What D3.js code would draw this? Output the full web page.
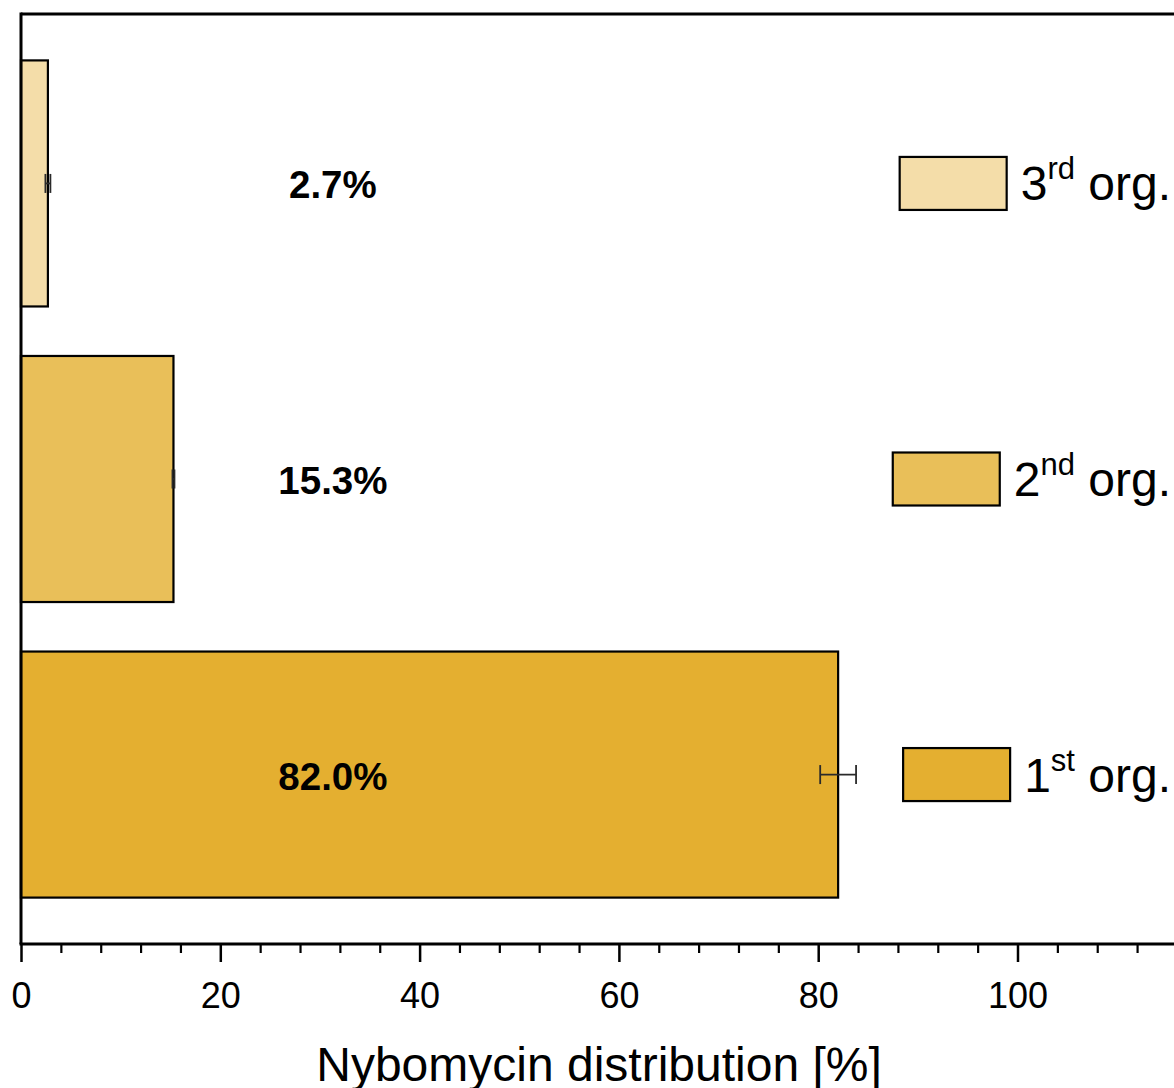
<!DOCTYPE html>
<html>
<head>
<meta charset="utf-8">
<script src="https://cdn.jsdelivr.net/npm/d3@7/dist/d3.min.js"></script>
<style>
  html, body { margin: 0; padding: 0; background: #fff; }
  svg { display: block; font-family: "Liberation Sans", Arial, Helvetica, sans-serif; }
</style>
</head>
<body>
<svg id="chart" width="1174" height="1088"></svg>
<script>
// Organ groups, top to bottom
const organs = ["3rd", "2nd", "1st"];
const ordinalBase = ["3", "2", "1"];
const ordinalSuffix = ["rd", "nd", "st"];
// Share of nybomycin per organ (%) and its standard deviation
const shares = [2.7, 15.3, 82.0];
const errors = [0.25, 0.1, 1.8];
const fills = ["#F4DDA9", "#E9BF59", "#E4AF30"];
// Axis ticks
const majorTicks = [0, 20, 40, 60, 80, 100];
const minorTicks = d3.range(4, 116, 4).filter(v => v % 20 !== 0);
const xTitle = "Nybomycin distribution [%]";

const rows = organs.map((o, i) => ({
  organ: o, base: ordinalBase[i], suffix: ordinalSuffix[i],
  value: shares[i], err: errors[i], fill: fills[i]
}));

const svg = d3.select("#chart");
const plotLeft = 21, plotTop = 14, plotBottom = 944;

const x = d3.scaleLinear().domain([0, 100]).range([plotLeft, plotLeft + 996.5]);
const xEnd = 1180;

const y = d3.scaleBand()
  .domain(organs)
  .range([plotTop, plotBottom])
  .paddingInner(0.1675)
  .paddingOuter(0.157);

// Bars
svg.append("g").selectAll("rect")
  .data(rows)
  .join("rect")
  .attr("x", x(0))
  .attr("y", d => y(d.organ))
  .attr("width", d => x(d.value) - x(0))
  .attr("height", y.bandwidth())
  .attr("fill", d => d.fill)
  .attr("stroke", "#000")
  .attr("stroke-width", 2.2);

// Error bars
const capH = 19;
const eb = svg.append("g").attr("stroke", "#2a2a2a").attr("stroke-width", 1.8).attr("fill", "none");
rows.forEach(d => {
  const cy = y(d.organ) + y.bandwidth() / 2;
  const x0 = x(d.value - d.err), x1 = x(d.value + d.err);
  eb.append("line").attr("x1", x0).attr("x2", x1).attr("y1", cy).attr("y2", cy);
  eb.append("line").attr("x1", x0).attr("x2", x0).attr("y1", cy - capH / 2).attr("y2", cy + capH / 2);
  eb.append("line").attr("x1", x1).attr("x2", x1).attr("y1", cy - capH / 2).attr("y2", cy + capH / 2);
});

// Value labels
const labelX = x(31.3);
svg.append("g").selectAll("text")
  .data(rows)
  .join("text")
  .attr("x", labelX)
  .attr("y", d => y(d.organ) + y.bandwidth() / 2 + 15)
  .attr("text-anchor", "middle")
  .attr("font-size", 38.5)
  .attr("font-weight", "bold")
  .attr("fill", "#000")
  .text(d => d.value.toFixed(1) + "%");

// Frame: top border and left axis line
svg.append("line").attr("x1", plotLeft).attr("x2", xEnd).attr("y1", plotTop).attr("y2", plotTop)
  .attr("stroke", "#000").attr("stroke-width", 3);
svg.append("line").attr("x1", plotLeft).attr("x2", plotLeft).attr("y1", plotTop - 1.5).attr("y2", plotBottom)
  .attr("stroke", "#000").attr("stroke-width", 3);

// Bottom axis: minor ticks
const minorAxis = d3.axisBottom(x).tickValues(minorTicks).tickSizeInner(9).tickSizeOuter(0).tickFormat("");
svg.append("g").attr("transform", `translate(0,${plotBottom})`).call(minorAxis)
  .call(g => g.select(".domain").remove())
  .call(g => g.selectAll(".tick line").attr("stroke", "#000").attr("stroke-width", 2.2));

// Bottom axis: major ticks with labels
const majorAxis = d3.axisBottom(x).tickValues(majorTicks).tickSizeInner(18).tickSizeOuter(0).tickPadding(20);
svg.append("g").attr("transform", `translate(0,${plotBottom})`).call(majorAxis)
  .call(g => g.select(".domain").remove())
  .call(g => g.selectAll(".tick line").attr("stroke", "#000").attr("stroke-width", 2.5))
  .call(g => g.selectAll(".tick text")
    .attr("font-size", 36).attr("fill", "#000")
    .attr("font-family", "'Liberation Sans', Arial, sans-serif"));

svg.append("line").attr("x1", plotLeft - 1.5).attr("x2", xEnd).attr("y1", plotBottom).attr("y2", plotBottom)
  .attr("stroke", "#000").attr("stroke-width", 3);

// Axis title
svg.append("text")
  .attr("x", 599)
  .attr("y", 1081)
  .attr("text-anchor", "middle")
  .attr("font-size", 48)
  .attr("fill", "#000")
  .text(xTitle);

// Legend, right-aligned at the window edge
const legendRight = 1171, boxW = 107, boxH = 53, gap = 14;
rows.forEach(d => {
  const cy = y(d.organ) + y.bandwidth() / 2;
  const g = svg.append("g");
  const t = g.append("text")
    .attr("y", cy + 17)
    .attr("font-size", 48)
    .attr("fill", "#000");
  t.append("tspan").text(d.base);
  t.append("tspan").attr("font-size", 31).attr("dy", -21).text(d.suffix);
  t.append("tspan").attr("dy", 21).text(" org.");
  const w = t.node().getComputedTextLength();
  const tx = legendRight - w;
  t.attr("x", tx);
  g.append("rect")
    .attr("x", tx - gap - boxW)
    .attr("y", cy - boxH / 2)
    .attr("width", boxW)
    .attr("height", boxH)
    .attr("fill", d.fill)
    .attr("stroke", "#000")
    .attr("stroke-width", 2.2);
});
</script>
</body>
</html>
